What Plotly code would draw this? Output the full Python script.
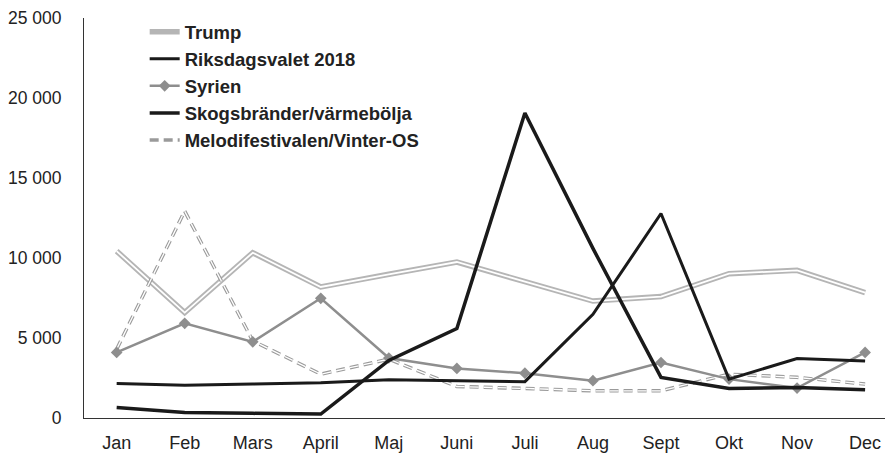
import plotly.graph_objects as go

months = ["Jan", "Feb", "Mars", "April", "Maj", "Juni", "Juli", "Aug", "Sept", "Okt", "Nov", "Dec"]

trump = [10430, 6590, 10330, 8190, 8980, 9750, 8520, 7310, 7590, 9020, 9230, 7840]
riksdagsvalet = [2160, 2050, 2120, 2200, 2390, 2350, 2270, 6480, 12780, 2430, 3720, 3570]
syrien = [4100, 5920, 4760, 7480, 3750, 3100, 2800, 2330, 3470, 2430, 1870, 4100]
skogsbrander = [650, 350, 290, 250, 3600, 5590, 19060, 10600, 2540, 1850, 1910, 1760]
melodi = [4300, 12930, 4820, 2740, 3680, 1970, 1850, 1700, 1700, 2740, 2540, 2120]

y_ticks = [0, 5000, 10000, 15000, 20000, 25000]
y_tick_text = ["0", "5 000", "10 000", "15 000", "20 000", "25 000"]

names = ["Trump", "Riksdagsvalet 2018", "Syrien", "Skogsbränder/värmebölja", "Melodifestivalen/Vinter-OS"]

fig = go.Figure()

# Trump: double line (gray outer, white inner)
fig.add_trace(go.Scatter(x=months, y=trump, mode="lines", name=names[0],
                         line=dict(color="#b5b5b5", width=5.5), legendrank=1))
fig.add_trace(go.Scatter(x=months, y=trump, mode="lines", showlegend=False,
                         line=dict(color="white", width=1.8), hoverinfo="skip"))

# Melodifestivalen: outlined dashes
fig.add_trace(go.Scatter(x=months, y=melodi, mode="lines", name=names[4],
                         line=dict(color="#9a9a9a", width=3.5, dash="9px,5px"),
                         legendrank=5))
fig.add_trace(go.Scatter(x=months, y=melodi, mode="lines", showlegend=False,
                         line=dict(color="white", width=1.3, dash="9px,5px"),
                         hoverinfo="skip"))

# Syrien
fig.add_trace(go.Scatter(x=months, y=syrien, mode="lines+markers", name=names[2],
                         line=dict(color="#8e8e8e", width=2.5),
                         marker=dict(symbol="diamond", size=9, color="#8e8e8e"),
                         legendrank=3))

# Riksdagsvalet
fig.add_trace(go.Scatter(x=months, y=riksdagsvalet, mode="lines", name=names[1],
                         line=dict(color="#1a1a1a", width=3), legendrank=2))

# Skogsbränder
fig.add_trace(go.Scatter(x=months, y=skogsbrander, mode="lines", name=names[3],
                         line=dict(color="#1a1a1a", width=3.5), legendrank=4))

fig.update_layout(
    width=885, height=447,
    margin=dict(l=72, r=0, t=10, b=37),
    paper_bgcolor="white", plot_bgcolor="white",
    font=dict(family="Liberation Sans, Arial, sans-serif", size=17, color="#222"),
    showlegend=True,
    legend=dict(x=0.075, y=1.012, xanchor="left", yanchor="top",
                font=dict(size=18.5, color="#222", family="Liberation Sans, Arial, sans-serif", weight="bold"),
                bgcolor="rgba(0,0,0,0)", traceorder="normal"),
    xaxis=dict(type="category", categoryorder="array", categoryarray=months,
               range=[-0.48, 11.41], showgrid=False, zeroline=False,
               showline=True, linecolor="#333", linewidth=1, ticks="",
               ticklabelstandoff=8, tickfont=dict(size=18)),
    yaxis=dict(range=[0, 25000], tickvals=y_ticks, ticktext=y_tick_text,
               showgrid=False, zeroline=False, showline=True, linecolor="#333",
               linewidth=1, ticks="", ticklabelstandoff=18,
               tickfont=dict(size=17.5)),
)

fig.write_html("out.html")
